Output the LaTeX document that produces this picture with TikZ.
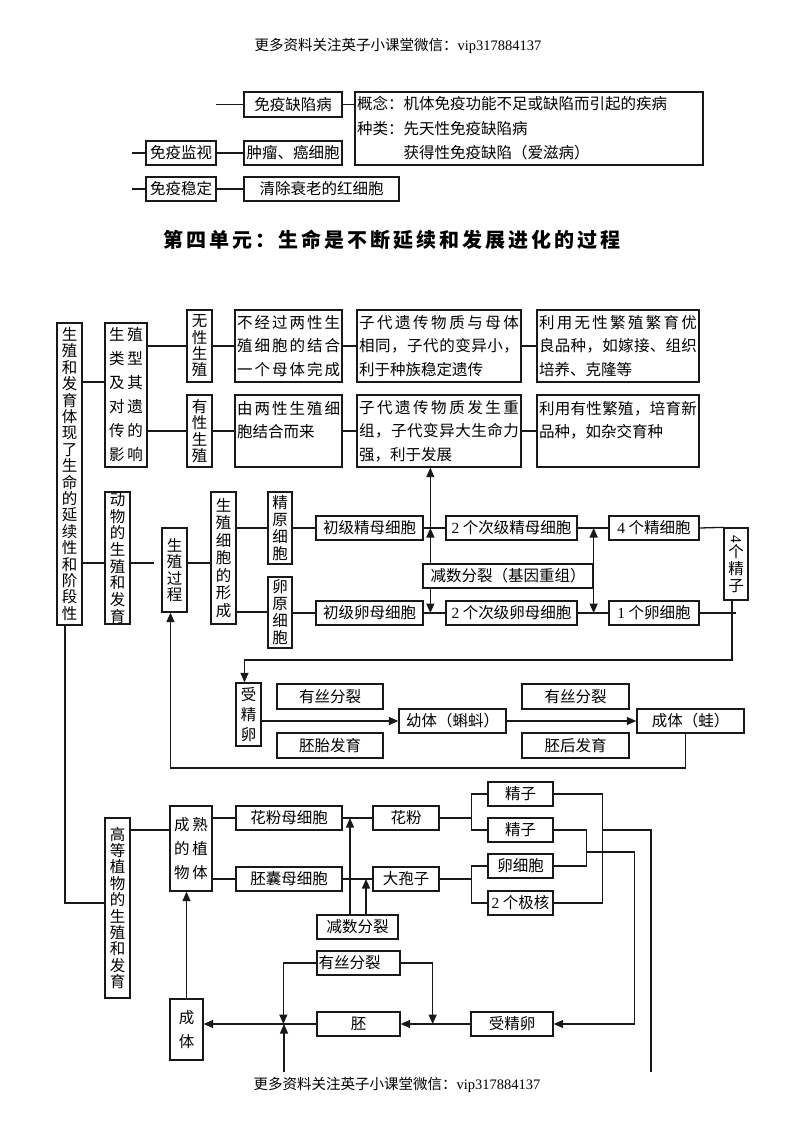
\documentclass[tikz,border=0pt]{standalone}
\usepackage{fontspec}
\usepackage{graphicx}
\usetikzlibrary{arrows.meta}
\setmainfont{Liberation Serif}
\newfontfamily\cjk{Noto Sans CJK SC}
\newcommand\lat[1]{{\rmfamily #1}}
\makeatletter
\def\spr@#1#2\@nil{#1\ifx\relax#2\relax\else\hfil\spr@#2\@nil\fi}
\newcommand\spr[2]{\makebox[#1][s]{\spr@#2\@nil}}
\makeatother
\newcommand\bx[7][]{\node[box,#1,minimum width={#4-#2},minimum height={#5-#3}] (#6) at ({(#2+#4)/2},{(#3+#5)/2}) {#7};}
\tikzset{
  box/.style={draw=black!90, line width=1.3pt, inner sep=0pt, font=\cjk\fontsize{15.5}{18}\selectfont},
  vt/.style={align=center, font=\cjk\fontsize{15.5}{#1}\selectfont},
  ml/.style={text width=#1, align=left, font=\cjk\fontsize{15.5}{23.5}\selectfont},
  lft/.style={text width=80pt, align=left},
  conn/.style={draw=black!90, line width=1.3pt},
  arr/.style={conn, -{Triangle[length=9.5pt,width=8pt]}},
}
\begin{document}
\begin{tikzpicture}[x=1pt,y=-1pt]
\fill[white] (0,0) rectangle (800,1130);
\useasboundingbox (0,0) rectangle (800,1130);
% header / footer
\node[font=\cjk\fontsize{14.5}{17}\selectfont] (hd) at (398,46) {更多资料关注英子小课堂微信：\lat{vip317884137}};
\node[font=\cjk\fontsize{14.5}{17}\selectfont] (ft) at (397,1085) {更多资料关注英子小课堂微信：\lat{vip317884137}};
% top section
\bx{244}{92}{342}{117}{qx}{免疫缺陷病}
\bx[ml=344pt,font=\cjk\fontsize{15.5}{24.5}\selectfont]{355}{92}{703}{165}{gn}{概念：机体免疫功能不足或缺陷而引起的疾病\\种类：先天性免疫缺陷病\\\phantom{种类：}获得性免疫缺陷（爱滋病）}
\bx{146}{141}{216}{165}{jk}{免疫监视}
\bx{244}{141}{342}{165}{zl}{肿瘤、癌细胞}
\bx{146}{177}{216}{201}{wd}{免疫稳定}
\bx{244}{177}{399}{201}{qc}{清除衰老的红细胞}
\coordinate (s0) at (216,104.5);
\coordinate (s1) at (132,153);
\coordinate (s2) at (132,189);
\draw[conn] (s0) -- (qx.west);
\draw[conn] (qx.east) -- (gn.west |- qx.east);
\draw[conn] (s1) -- (jk.west);
\draw[conn] (jk.east) -- (zl.west);
\draw[conn] (s2) -- (wd.west);
\draw[conn] (wd.east) -- (qc.west);
% title
\node[font=\cjk\bfseries\fontsize{20}{24}\selectfont] (title) at (391.5,240) {\spr{457pt}{第四单元：生命是不断延续和发展进化的过程}};
% main column
\bx[vt=16.4]{57}{323}{82}{625}{c1}{生\\殖\\和\\发\\育\\体\\现\\了\\生\\命\\的\\延\\续\\性\\和\\阶\\段\\性}
\bx[vt=24]{105}{323}{147}{467}{b1}{生\hspace{3pt}殖\\类\hspace{3pt}型\\及\hspace{3pt}其\\对\hspace{3pt}遗\\传\hspace{3pt}的\\影\hspace{3pt}响}
\bx[vt=16.3]{187}{310}{212}{382}{n1}{无\\性\\生\\殖}
\bx[vt=16.3]{187}{395}{212}{467}{n2}{有\\性\\生\\殖}
\bx[ml=103pt]{235}{310}{342}{382}{t1}{\spr{103pt}{不经过两性生}\\\spr{103pt}{殖细胞的结合}\\\spr{103pt}{一个母体完成}}
\bx[ml=103pt]{235}{395}{342}{467}{t2}{\spr{103pt}{由两性生殖细}\\胞结合而来\\\mbox{}}
\bx[ml=160pt]{357}{310}{521}{382}{u1}{\spr{160pt}{子代遗传物质与母体}\\\spr{160pt}{相同，子代的变异小，}\\利于种族稳定遗传}
\bx[ml=160pt]{357}{395}{521}{467}{u2}{\spr{160pt}{子代遗传物质发生重}\\\spr{160pt}{组，子代变异大生命力}\\强，利于发展}
\bx[ml=158pt]{537}{310}{699}{382}{v1}{\spr{158pt}{利用无性繁殖繁育优}\\\spr{158pt}{良品种，如嫁接、组织}\\培养、克隆等}
\bx[ml=158pt]{537}{395}{699}{467}{v2}{\spr{158pt}{利用有性繁殖，培育新}\\品种，如杂交育种\\\mbox{}}
\draw[conn] (c1.east |- 0,382) -- (b1.west |- 0,382);
\draw[conn] (b1.east |- n1.west) -- (n1.west);
\draw[conn] (b1.east |- n2.west) -- (n2.west);
\draw[conn] (n1.east) -- (t1.west);
\draw[conn] (t1.east) -- (u1.west);
\draw[conn] (u1.east) -- (v1.west);
\draw[conn] (n2.east) -- (t2.west);
\draw[conn] (t2.east) -- (u2.west);
\draw[conn] (u2.east) -- (v2.west);
% animals
\bx[vt=16.7]{105}{492}{130}{624}{a1}{动\\物\\的\\生\\殖\\和\\发\\育}
\bx[vt=16.5]{162}{528}{187}{612}{p1}{生\\殖\\过\\程}
\bx[vt=17.5]{211}{492}{236}{624}{g1}{生\\殖\\细\\胞\\的\\形\\成}
\bx[vt=17]{268}{492}{292}{564}{s1}{精\\原\\细\\胞}
\bx[vt=17]{268}{577}{292}{648}{s2}{卵\\原\\细\\胞}
\bx{316}{516}{423}{540}{k1}{初级精母细胞}
\bx{316}{601}{423}{625}{k2}{初级卵母细胞}
\bx{446}{516}{577}{540}{m1}{\lat{2} 个次级精母细胞}
\bx{446}{601}{577}{625}{m2}{\lat{2} 个次级卵母细胞}
\bx{609}{516}{699}{540}{q1}{\lat{4} 个精细胞}
\bx{609}{601}{699}{625}{q2}{\lat{1} 个卵细胞}
\bx[vt=17]{724}{528}{748}{600}{jz}{\rotatebox{-90}{\lat{4}}\\个\\精\\子}
\bx{423}{564}{593}{588}{jf}{减数分裂（基因重组）}
\draw[conn] (c1.east |- 0,563) -- (a1.west |- 0,563);
\draw[conn, shorten >=7pt] (a1.east |- 0,563) -- (p1.west |- 0,563);
\draw[conn] (p1.east |- 0,563) -- (g1.west |- 0,563);
\draw[conn] (g1.east |- 0,528) -- (s1.west |- 0,528);
\draw[conn] (g1.east |- 0,612) -- (s2.west |- 0,612);
\draw[conn] (s1.east |- k1.west) -- (k1.west);
\draw[conn] (s2.east |- k2.west) -- (k2.west);
\draw[conn] (k1.east) -- (m1.west);
\draw[conn] (m1.east) -- (q1.west);
\draw[conn] (k2.east) -- (m2.west);
\draw[conn] (m2.east) -- (q2.west);
\draw[conn] (q1.east) -- (jz.north west);
\draw[conn] (q2.east) -- (q2.east -| jz.south);
\draw[arr] ([xshift=8pt]jf.north west) -- ([xshift=8pt]jf.north west |- u2.south);
\draw[arr] ([xshift=8pt]jf.north west) -- ([xshift=8pt]jf.north west |- k1.east);
\draw[arr] ([xshift=8pt]jf.south west) -- ([xshift=8pt]jf.south west |- k2.east);
\draw[arr] (jf.north east) -- (jf.north east |- m1.east);
\draw[arr] (jf.south east) -- (jf.south east |- m2.east);
% frog
\bx[vt=20]{236}{683}{261}{746}{sj}{受\\精\\卵}
\bx{277}{684}{383}{709}{ys1}{有丝分裂}
\bx{277}{733}{383}{758}{pt}{胚胎发育}
\bx{399}{709}{506}{733}{yt}{幼体（蝌蚪）}
\bx{522}{684}{629}{709}{ys2}{有丝分裂}
\bx{522}{733}{629}{758}{ph}{胚后发育}
\bx{637}{709}{744}{733}{ct}{成体（蛙）}
\draw[arr] ([xshift=-4pt]jz.south) -- ([xshift=-4pt]jz.south |- 0,660) -| ([xshift=-4pt]sj.north);
\draw[arr] (sj.east |- yt.west) -- (yt.west);
\draw[arr] (yt.east) -- (ct.west);
\draw[arr] ([xshift=-5pt]ct.south) |- ([xshift=-4pt]p1.south |- 0,768) -- ([xshift=-4pt]p1.south);
% plants
\bx[vt=16.4]{105}{818}{130}{998}{h1}{高\\等\\植\\物\\的\\生\\殖\\和\\发\\育}
\bx[vt=24]{170}{806}{212}{891}{zw}{成\hspace{3pt}熟\\的\hspace{3pt}植\\物\hspace{3pt}体}
\bx{236}{806}{342}{830}{hf}{花粉母细胞}
\bx{236}{867}{342}{891}{pn}{胚囊母细胞}
\bx{373}{806}{439}{830}{fen}{花粉}
\bx{373}{867}{439}{891}{dbz}{大孢子}
\bx{317}{915}{398}{939}{js}{减数分裂}
\bx{488}{782}{553}{806}{jz1}{精子}
\bx{488}{818}{553}{842}{jz2}{精子}
\bx{488}{854}{553}{878}{lx}{卵细胞}
\bx{488}{891}{553}{915}{jh}{\lat{2} 个极核}
\bx[vt=24]{170}{999}{203}{1060}{ct2}{成\\体}
\bx[lft]{317}{951}{400}{975}{ys3}{有丝分裂}
\bx{317}{1012}{400}{1036}{pei}{胚}
\bx{471}{1012}{553}{1036}{sjl}{受精卵}
\coordinate (e1) at (651,1072);
\coordinate (e2) at (284,1072);
\draw[conn] ([xshift=-4.5pt]c1.south) |- (h1.west |- 0,903);
\draw[conn] (h1.east |- 0,830) -- (zw.west |- 0,830);
\draw[conn] (zw.east |- hf.west) -- (hf.west);
\draw[conn] (zw.east |- pn.west) -- (pn.west);
\draw[conn] (hf.east) -- (fen.west);
\draw[conn] (pn.east) -- (dbz.west);
\draw[arr] ([xshift=-7.5pt]js.north) -- ([xshift=-7.5pt]js.north |- hf.east);
\draw[arr] ([xshift=8.5pt]js.north) -- ([xshift=8.5pt]js.north |- pn.east);
\draw[conn] (fen.east) -- ([xshift=-16pt]jz1.west |- fen.east);
\draw[conn] (jz1.west) -- ++(-16,0) |- (jz2.west);
\draw[conn] (dbz.east) -- ([xshift=-16pt]lx.west |- dbz.east);
\draw[conn] (lx.west) -- ++(-16,0) |- (jh.west);
\draw[conn] (jz1.east) -- ++(49,0) |- (jh.east);
\draw[conn] (jz2.east) -- ++(33,0) |- (lx.east);
\draw[conn] ([xshift=49pt]jz2.east) -| (e1);
\draw[arr] ([xshift=33pt]jz2.east |- 0,852) -| ([xshift=81pt]sjl.east) -- (sjl.east);
\draw[arr] (sjl.west) -- (pei.east);
\draw[arr] (pei.west) -- (ct2.east |- pei.west);
\draw[arr] (ys3.east) -| ([xshift=32pt]pei.east);
\draw[arr] (ys3.west) -| ([xshift=-33pt]pei.west);
\draw[arr] (e2) -- (e2 |- pei.west);
\draw[arr] (ct2.north) -- (ct2.north |- zw.south);
\end{tikzpicture}
\end{document}
